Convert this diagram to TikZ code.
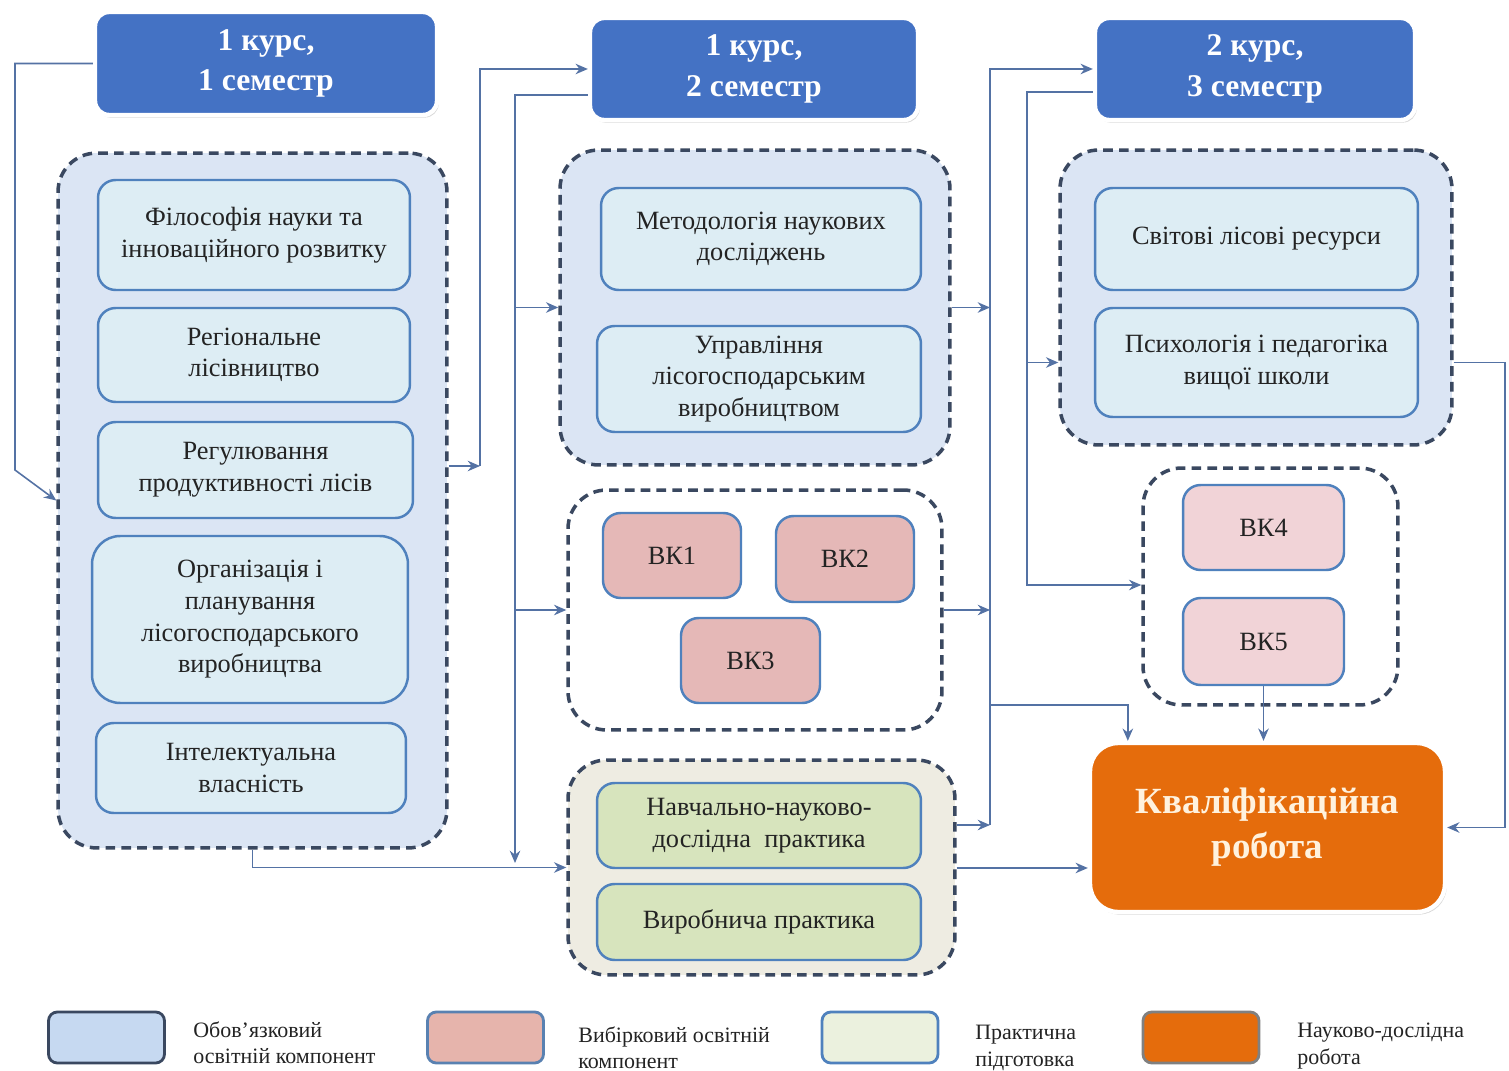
\documentclass[tikz,border=0pt]{standalone}
\usepackage{fontspec}
\setmainfont{Liberation Serif}
\usetikzlibrary{arrows.meta,shadows}
\definecolor{semblue}{RGB}{68,114,196}
\definecolor{grpblue}{RGB}{219,229,244}
\definecolor{boxblue}{RGB}{221,237,244}
\definecolor{edgeblue}{RGB}{79,129,189}
\definecolor{dashgray}{RGB}{58,72,96}
\definecolor{vkpink}{RGB}{229,184,183}
\definecolor{vkpale}{RGB}{241,211,215}
\definecolor{practgreen}{RGB}{215,228,189}
\definecolor{practbg}{RGB}{238,236,226}
\definecolor{kvorange}{RGB}{229,108,12}
\definecolor{kvtext}{RGB}{255,242,222}
\definecolor{linkblue}{RGB}{84,114,164}
\definecolor{inktext}{RGB}{35,35,35}
\definecolor{legblue}{RGB}{198,217,241}
\definecolor{legpink}{RGB}{230,180,172}
\definecolor{leggreen}{RGB}{235,241,222}

\tikzset{
  semester/.style={rounded corners=8pt, fill=semblue, draw=white, line width=2.5pt,
    drop shadow={opacity=0.3, shadow xshift=1pt, shadow yshift=-1.5pt},
    text=white, font=\fontsize{18}{23}\selectfont\bfseries, align=center, inner sep=0pt},
  group/.style={draw=dashgray, line width=2pt, dash pattern=on 5.5pt off 3.5pt,
    rounded corners=22pt, inner sep=0pt},
  course/.style={draw=edgeblue, line width=1.4pt, fill=boxblue, rounded corners=10pt,
    align=center, inner sep=0pt, text=inktext, font=\fontsize{15}{18}\selectfont},
  elective/.style={course, fill=vkpink},
  practice/.style={course, fill=practgreen},
  thesis/.style={rounded corners=16pt, fill=kvorange, draw=white, line width=2.5pt,
    drop shadow={opacity=0.3, shadow xshift=1pt, shadow yshift=-1.5pt},
    text=kvtext, font=\fontsize{21}{25.5}\selectfont\bfseries, align=center, inner sep=0pt},
  legendbox/.style={rounded corners=5pt, line width=1.6pt, minimum width=2.32cm, minimum height=1.02cm},
  legendtext/.style={anchor=west, align=left, inner sep=0pt, text=inktext, font=\fontsize{12.5}{15}\selectfont},
  conn/.style={draw=linkblue, line width=0.9pt, -{Stealth[length=7pt,width=6pt]}},
}

\begin{document}
\begin{tikzpicture}[x=0.02cm, y=-0.02cm]

% Frame
\useasboundingbox (0,0) rectangle (1509,1071);

% Semester headers
\node[semester, minimum width=6.84cm, minimum height=2.06cm] (h1) at (266,63.5) {1 курс,\\1 семестр};
\node[semester, minimum width=6.56cm, minimum height=2.04cm] (h2) at (754,69) {1 курс,\\2 семестр};
\node[semester, minimum width=6.4cm, minimum height=2.04cm] (h3) at (1255,69) {2 курс,\\3 семестр};

% Groups of components
\node[group, fill=grpblue, minimum width=7.78cm, minimum height=13.9cm] (g1) at (252.5,500.5) {};
\node[group, fill=grpblue, minimum width=7.8cm, minimum height=6.3cm] (g2a) at (755,307.5) {};
\node[group, fill=white, minimum width=7.48cm, minimum height=4.8cm] (g2b) at (755,610) {};
\node[group, fill=practbg, minimum width=7.74cm, minimum height=4.3cm] (g2c) at (761.5,867.5) {};
\node[group, fill=grpblue, minimum width=7.84cm, minimum height=5.9cm] (g3a) at (1256,297.5) {};
\node[group, fill=white, minimum width=5.1cm, minimum height=4.74cm] (g3b) at (1270.5,586.5) {};

% Semester 1
\node[course, minimum width=6.24cm, minimum height=2.2cm] (a1) at (254,235) {Філософія науки та\\інноваційного розвитку};
\node[course, minimum width=6.24cm, minimum height=1.88cm] (a2) at (254,355) {Регіональне\\лісівництво};
\node[course, minimum width=6.3cm, minimum height=1.92cm] (a3) at (255.5,470) {Регулювання\\продуктивності лісів};
\node[course, rounded corners=16pt, minimum width=6.32cm, minimum height=3.34cm] (a4) at (250,619.5) {Організація і\\планування\\лісогосподарського\\виробництва};
\node[course, minimum width=6.2cm, minimum height=1.8cm] (a5) at (251,768) {Інтелектуальна\\власність};

% Semester 2
\node[course, minimum width=6.4cm, minimum height=2.04cm] (b1) at (761,239) {Методологія наукових\\досліджень};
\node[course, minimum width=6.48cm, minimum height=2.12cm] (b2) at (759,379) {Управління\\лісогосподарським\\виробництвом};
\node[elective, minimum width=2.76cm, minimum height=1.7cm] (vk1) at (672,555.5) {ВК1};
\node[elective, minimum width=2.76cm, minimum height=1.72cm] (vk2) at (845,559) {ВК2};
\node[elective, minimum width=2.78cm, minimum height=1.7cm] (vk3) at (750.5,660.5) {ВК3};
\node[practice, minimum width=6.48cm, minimum height=1.7cm] (p1) at (759,825.5) {Навчально-науково-\\дослідна\ \ практика};
\node[practice, minimum width=6.48cm, minimum height=1.52cm] (p2) at (759,922) {Виробнича практика};

% Semester 3
\node[course, minimum width=6.46cm, minimum height=2.04cm] (c1) at (1256.5,239) {Світові лісові ресурси};
\node[course, minimum width=6.46cm, minimum height=2.18cm] (c2) at (1256.5,362.5) {Психологія і педагогіка\\вищої школи};
\node[elective, fill=vkpale, minimum width=3.22cm, minimum height=1.7cm] (vk4) at (1263.5,527.5) {ВК4};
\node[elective, fill=vkpale, minimum width=3.22cm, minimum height=1.74cm] (vk5) at (1263.5,641.5) {ВК5};

% Qualification work
\node[thesis, minimum width=7.1cm, minimum height=3.38cm] (kr) at (1267.5,827.5) {Кваліфікаційна\\робота};

% Junctions
\coordinate (c1turn) at (15,470);
\coordinate (s1) at (480,466);
\coordinate (s2) at (515,863);
\coordinate (s3) at (990,825);
\coordinate (s4) at (990,705);
\coordinate (s5) at (1027,585);
\coordinate (s6) at (1505,827.5);
\coordinate (k1) at ([yshift=-0.81cm]kr.west);

% Connectors
\draw[conn] (h1.west) -| (c1turn) -- (g1.west);
\draw[conn] (g1.east |- s1) -- (s1);
\draw[conn] (s1) |- (h2.west);
\draw[conn] ([yshift=-0.52cm]h2.west) -| (s2);
\draw[conn] (s2 |- g2a.west) -- (g2a.west);
\draw[conn] (s2 |- g2b.west) -- (g2b.west);
\draw[conn] (g1.south) |- (g2c.west);
\draw[conn] (g2a.east) -- (g2a.east -| s3);
\draw[conn] (g2b.east) -- (g2b.east -| s3);
\draw[conn] (g2c.east |- s3) -- (s3);
\draw[conn] (s3) |- (h3.west);
\draw[conn] (s4) -| ([xshift=0.8cm]kr.north west);
\draw[conn] ([yshift=-0.46cm]h3.west) -| (s5) -- (s5 -| g3b.west);
\draw[conn] (s5 |- c2) -- (g3a.west |- c2);
\draw[conn] (g2c.east |- k1) -- (k1);
\draw[conn] (vk5.south) -- (vk5.south |- kr.north);
\draw[conn] (g3a.east |- c2) -| (s6) -- (kr.east);

% Legend
\node[legendbox, draw=dashgray, fill=legblue] (l1) at (106.5,1037.5) {};
\node[legendbox, draw=edgeblue!80!gray, fill=legpink] (l2) at (485.5,1037.5) {};
\node[legendbox, draw=edgeblue, fill=leggreen] (l3) at (880,1037.5) {};
\node[legendbox, draw=gray, fill=kvorange] (l4) at (1201,1037.5) {};
\node[legendtext] (t1) at (193,1043) {Обов’язковий\\освітній компонент};
\node[legendtext] (t2) at (578,1048) {Вибірковий освітній\\компонент};
\node[legendtext] (t3) at (975,1048) {Практична\\підготовка};
\node[legendtext] (t4) at (1297,1046) {Науково-дослідна\\робота};

\end{tikzpicture}
\end{document}
